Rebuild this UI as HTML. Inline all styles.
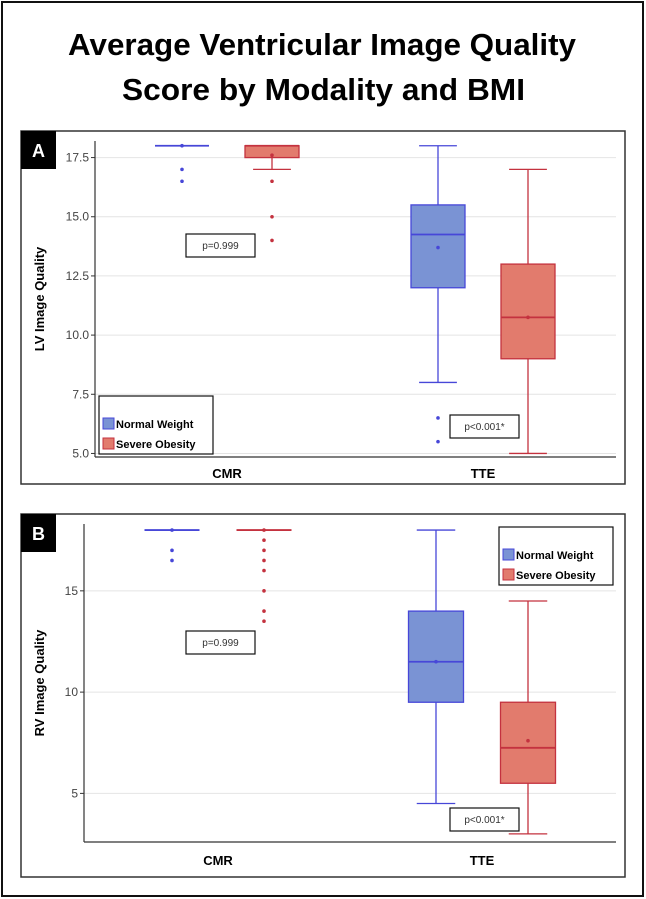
<!DOCTYPE html>
<html><head><meta charset="utf-8"><style>
html,body{margin:0;padding:0;background:#fff;}
svg{display:block;font-family:"Liberation Sans",sans-serif;}
</style></head><body>
<svg id="fig" width="646" height="899" viewBox="0 0 646 899">
<rect x="2" y="2" width="641" height="894" fill="#fff" stroke="#111" stroke-width="2"/>
<text x="68" y="55" font-size="31" font-weight="bold" textLength="508" lengthAdjust="spacingAndGlyphs">Average Ventricular Image Quality</text>
<text x="122" y="100" font-size="31" font-weight="bold" textLength="403" lengthAdjust="spacingAndGlyphs">Score by Modality and BMI</text>
<g id="pA"></g>
<g id="pB"></g>
</svg>
<script>
// Panel A data (LV)
const catsA = ["CMR","TTE"];
const ticksA = [5.0,7.5,10.0,12.5,15.0,17.5];
const tickLabelsA = ["5.0","7.5","10.0","12.5","15.0","17.5"];
// [whiskerLow, q1, median, q3, whiskerHigh, mean]
const normalA = [[18,18,18,18,18,18],[8,12,14.25,15.5,18,13.7]];
const severeA = [[17,17.5,18,18,18,17.6],[5,9,10.75,13,17,10.75]];
const normalOutA = [[17,16.5],[6.5,5.5]];
const severeOutA = [[16.5,15,14],[]];
// Panel B data (RV)
const catsB = ["CMR","TTE"];
const ticksB = [5,10,15];
const tickLabelsB = ["5","10","15"];
const normalB = [[18,18,18,18,18,18],[4.5,9.5,11.5,14,18,11.5]];
const severeB = [[18,18,18,18,18,18],[3,5.5,7.25,9.5,14.5,7.6]];
const normalOutB = [[17,16.5],[]];
const severeOutB = [[17.5,17,16.5,16,15,14,13.5],[]];

const NS="http://www.w3.org/2000/svg";
function mk(parent,tag,attrs,name){const e=document.createElementNS(NS,tag);for(const k in attrs)e.setAttribute(k,attrs[k]);


parent.appendChild(e);return e;}
const BLUE={fill:"#7a93d4",stroke:"#4747d8"}, RED={fill:"#e27b6d",stroke:"#c4323f"};

function panel(g,cfg){
  const {frame,plot,ymin,ymax,ticks,tlabels,cats,catX,catY,offs,bw,normal,severe,nOut,sOut,label,ytitle,legend,pboxes}=cfg;
  mk(g,'rect',{x:frame[0],y:frame[1],width:frame[2],height:frame[3],fill:'#fff',stroke:'#333','stroke-width':1.5},'panel-frame');
  const Y=v=>plot.b-(v-ymin)/(ymax-ymin)*(plot.b-plot.t);
  ticks.forEach((t,i)=>{
    mk(g,'line',{x1:plot.l,x2:plot.r,y1:Y(t),y2:Y(t),stroke:'#e4e4e4','stroke-width':1},'gridline');
    mk(g,'line',{x1:plot.l-4,x2:plot.l,y1:Y(t),y2:Y(t),stroke:'#333'},'y-tick');
    const tx=mk(g,'text',{x:plot.l-6,y:Y(t)+4,'font-size':12,'text-anchor':'end',fill:'#444'},'y-tick-label');tx.textContent=tlabels[i];
  });
  mk(g,'line',{x1:plot.l,x2:plot.l,y1:plot.t,y2:plot.b,stroke:'#333','stroke-width':1.2},'y-axis');
  mk(g,'line',{x1:plot.l,x2:plot.r,y1:plot.b,y2:plot.b,stroke:'#333','stroke-width':1.2},'x-axis');
  cats.forEach((c,i)=>{const t=mk(g,'text',{x:catX[i],y:catY,'font-size':13,'font-weight':'bold','text-anchor':'middle'},'x-category-label');t.textContent=c;});
  const yt=mk(g,'text',{x:0,y:0,'font-size':13,'font-weight':'bold','text-anchor':'middle',transform:`translate(44,${(plot.t+plot.b)/2}) rotate(-90)`},'y-axis-title');yt.textContent=ytitle;
  function box(s,cx,col,outs,nm){
    const [lo,q1,md,q3,hi,mn]=s;
    mk(g,'line',{x1:cx,x2:cx,y1:Y(hi),y2:Y(lo),stroke:col.stroke,'stroke-width':1.3},nm+'-whisker');
    if(hi>q3) mk(g,'line',{x1:cx-bw*0.35,x2:cx+bw*0.35,y1:Y(hi),y2:Y(hi),stroke:col.stroke,'stroke-width':1.3},nm+'-cap-high');
    if(lo<q1) mk(g,'line',{x1:cx-bw*0.35,x2:cx+bw*0.35,y1:Y(lo),y2:Y(lo),stroke:col.stroke,'stroke-width':1.3},nm+'-cap-low');
    const h=Math.max(Y(q1)-Y(q3),0);
    if(h>0) mk(g,'rect',{x:cx-bw/2,y:Y(q3),width:bw,height:h,fill:col.fill,stroke:col.stroke,'stroke-width':1.3},nm+'-box');
    mk(g,'line',{x1:cx-bw/2,x2:cx+bw/2,y1:Y(md),y2:Y(md),stroke:col.stroke,'stroke-width':1.8},nm+'-median');
    mk(g,'circle',{cx:cx,cy:Y(mn),r:1.8,fill:col.stroke},nm+'-mean');
    outs.forEach(o=>mk(g,'circle',{cx:cx,cy:Y(o),r:1.8,fill:col.stroke},nm+'-outlier'));
  }
  cats.forEach((c,i)=>{box(normal[i],catX[i]+offs[0],BLUE,nOut[i],'normal-'+c.toLowerCase());box(severe[i],catX[i]+offs[1],RED,sOut[i],'severe-'+c.toLowerCase());});
  pboxes.forEach(p=>{mk(g,'rect',{x:p[0],y:p[1],width:69,height:23,fill:'#fff',stroke:'#111','stroke-width':1.2},'p-value-box');
    const t=mk(g,'text',{x:p[0]+34.5,y:p[1]+15,'font-size':10,'text-anchor':'middle',fill:'#333'},'p-value-label');t.textContent=p[2];});
  const [lx,ly]=legend;
  mk(g,'rect',{x:lx,y:ly,width:114,height:58,fill:'#fff',stroke:'#111','stroke-width':1.2},'legend');
  mk(g,'rect',{x:lx+4,y:ly+22,width:11,height:11,fill:BLUE.fill,stroke:BLUE.stroke},'legend-swatch-normal');
  let t=mk(g,'text',{x:lx+17,y:ly+32,'font-size':11,'font-weight':'bold'},'legend-entry-normal');t.textContent='Normal Weight';
  mk(g,'rect',{x:lx+4,y:ly+42,width:11,height:11,fill:RED.fill,stroke:RED.stroke},'legend-swatch-severe');
  t=mk(g,'text',{x:lx+17,y:ly+52,'font-size':11,'font-weight':'bold'},'legend-entry-severe');t.textContent='Severe Obesity';
  mk(g,'rect',{x:frame[0],y:frame[1],width:35,height:38,fill:'#000'},'panel-label-box');
  t=mk(g,'text',{x:frame[0]+17.5,y:frame[1]+26,'font-size':18,'font-weight':'bold','text-anchor':'middle',fill:'#fff'},'panel-label');t.textContent=label;
}
panel(document.getElementById('pA'),{frame:[21,131,604,353],plot:{l:95,r:616,t:141,b:457},ymin:4.85,ymax:18.2,
  ticks:ticksA,tlabels:tickLabelsA,cats:catsA,catX:[227,483],catY:478,offs:[-45,45],bw:54,normal:normalA,severe:severeA,nOut:normalOutA,sOut:severeOutA,
  label:'A',ytitle:'LV Image Quality',legend:[99,396],pboxes:[[186,234,'p=0.999'],[450,415,'p<0.001*']]});
panel(document.getElementById('pB'),{frame:[21,514,604,363],plot:{l:84,r:616,t:524,b:842},ymin:2.6,ymax:18.3,
  ticks:ticksB,tlabels:tickLabelsB,cats:catsB,catX:[218,482],catY:865,offs:[-46,46],bw:55,normal:normalB,severe:severeB,nOut:normalOutB,sOut:severeOutB,
  label:'B',ytitle:'RV Image Quality',legend:[499,527],pboxes:[[186,631,'p=0.999'],[450,808,'p<0.001*']]});
</script>
</body></html>
